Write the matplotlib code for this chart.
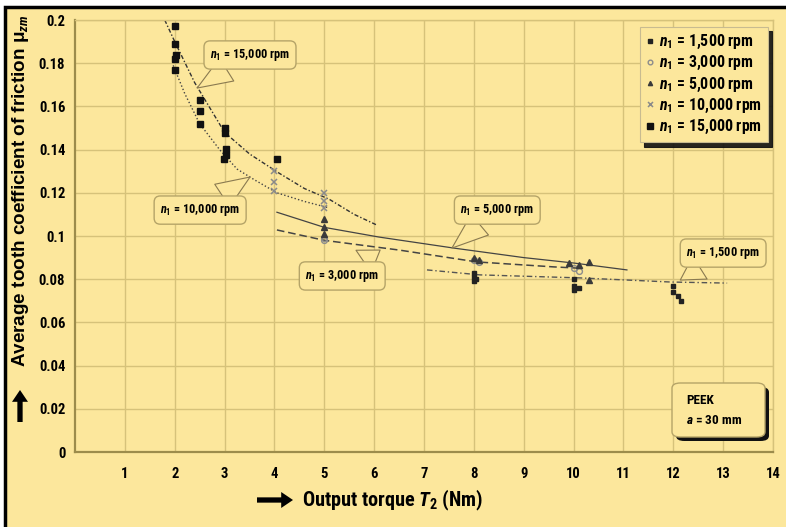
import matplotlib
matplotlib.use("Agg")
import matplotlib.pyplot as plt
import matplotlib.font_manager as fm
from matplotlib.patches import Rectangle, FancyBboxPatch

# ---------------- data ----------------
x_ticks = [1, 2, 3, 4, 5, 6, 7, 8, 9, 10, 11, 12, 13, 14]
y_ticks = [0, 0.02, 0.04, 0.06, 0.08, 0.10, 0.12, 0.14, 0.16, 0.18, 0.20]
y_tick_labels = ['0', '0.02', '0.04', '0.06', '0.08', '0.1', '0.12', '0.14', '0.16', '0.18', '0.2']

# measured points
p1500_x = [8.0, 8.0, 8.0, 8.05, 10.0, 10.0, 10.0, 10.1, 12.0, 12.0, 12.1, 12.15]
p1500_y = [0.083, 0.081, 0.079, 0.080, 0.080, 0.077, 0.075, 0.076, 0.077, 0.074, 0.072, 0.070]
p3000_x = [5.0, 5.0, 8.0, 8.1, 10.0, 10.1]
p3000_y = [0.099, 0.098, 0.089, 0.088, 0.085, 0.084]
p5000_x = [5.0, 5.0, 5.0, 8.0, 8.1, 9.9, 10.1, 10.3, 10.3]
p5000_y = [0.108, 0.104, 0.101, 0.090, 0.089, 0.0875, 0.0866, 0.088, 0.0796]
p10000_x = [4.0, 4.0, 4.0, 5.0, 5.0, 5.0]
p10000_y = [0.130, 0.125, 0.121, 0.120, 0.116, 0.113]
p15000_x = [2.0, 2.0, 2.02, 2.0, 2.0, 2.5, 2.5, 2.5, 3.0, 3.0, 3.02, 3.03, 2.98, 4.05]
p15000_y = [0.197, 0.189, 0.184, 0.182, 0.177, 0.163, 0.158, 0.152, 0.150, 0.1475, 0.1405, 0.1375, 0.1355, 0.1355]

# curves
c15000_x = [1.8, 2.0, 2.4, 3.0, 3.5, 4.1, 4.6, 5.1, 5.6, 6.06]
c15000_y = [0.200, 0.190, 0.171, 0.148, 0.138, 0.129, 0.122, 0.117, 0.110, 0.105]
c10000_x = [1.97, 2.2, 2.5, 2.9, 3.25, 3.6, 4.05, 4.6, 5.1]
c10000_y = [0.179, 0.166, 0.152, 0.140, 0.131, 0.126, 0.120, 0.116, 0.113]
c5000_x = [4.05, 5.0, 6.1, 7.6, 9.0, 10.0, 11.07]
c5000_y = [0.111, 0.104, 0.0995, 0.0944, 0.090, 0.0875, 0.0843]
c3000_x = [4.05, 5.0, 6.5, 8.06, 9.6, 10.2]
c3000_y = [0.1028, 0.098, 0.0935, 0.088, 0.0857, 0.085]
c1500_x = [7.06, 8.12, 10.13, 11.94, 13.08]
c1500_y = [0.0843, 0.082, 0.0806, 0.0787, 0.0782]

legend_labels = [r'$n_1$ = 1,500 rpm', r'$n_1$ = 3,000 rpm', r'$n_1$ = 5,000 rpm',
                 r'$n_1$ = 10,000 rpm', r'$n_1$ = 15,000 rpm']
callout_texts = [r'$n_1$ = 15,000 rpm', r'$n_1$ = 10,000 rpm', r'$n_1$ = 5,000 rpm',
                 r'$n_1$ = 3,000 rpm', r'$n_1$ = 1,500 rpm']

# ---------------- fonts ----------------
names = {f.name for f in fm.fontManager.ttflist}
NARROW = next((n for n in ['Liberation Sans Narrow', 'Roboto Condensed', 'Open Sans Condensed']
               if n in names), 'Liberation Sans')
plt.rcParams['font.family'] = [NARROW, 'DejaVu Sans']
plt.rcParams['font.weight'] = 'bold'
plt.rcParams['mathtext.fontset'] = 'custom'
plt.rcParams['mathtext.rm'] = f'{NARROW}:bold'
plt.rcParams['mathtext.it'] = f'{NARROW}:italic:bold'
plt.rcParams['mathtext.bf'] = f'{NARROW}:bold'

BG = '#fce79c'
GRID = '#d6c27a'
AXIS = '#9c8c4c'
BOXEDGE = '#b5a468'

W, H = 786, 527
fig = plt.figure(figsize=(W / 100, H / 100), dpi=100, facecolor='white')
fig.patches.append(Rectangle((5 / W, -0.05), 1.2, (1 - 7 / H) + 0.05, transform=fig.transFigure,
                             facecolor=BG, edgecolor='black', lw=2.5, zorder=-10))

ax = fig.add_axes([75 / W, 1 - 452 / H, 698 / W, 432 / H])
ax.set_facecolor(BG)
ax.set_xlim(0, 14)
ax.set_ylim(0, 0.2)
ax.set_xticks(x_ticks)
ax.set_xticklabels([str(v) for v in x_ticks])
ax.set_yticks(y_ticks)
ax.set_yticklabels(y_tick_labels)
ax.tick_params(length=0, labelsize=10.5)
ax.tick_params(axis='x', pad=11)
ax.tick_params(axis='y', pad=7)
ax.grid(True, color=GRID, lw=1.0, zorder=0)
ax.set_axisbelow(True)
for s in ['top', 'right']:
    ax.spines[s].set_color(GRID)
    ax.spines[s].set_linewidth(1.0)
for s in ['left', 'bottom']:
    ax.spines[s].set_color(AXIS)
    ax.spines[s].set_linewidth(1.6)

# curves
ax.plot(c15000_x, c15000_y, color='#333333', lw=1.0, ls=(0, (3, 1.5, 1, 1.5)), zorder=2)
ax.plot(c10000_x, c10000_y, color='#444444', lw=1.0, ls=(0, (1, 1.6)), zorder=2)
ax.plot(c5000_x, c5000_y, color='#444444', lw=0.9, ls='-', zorder=2)
ax.plot(c3000_x, c3000_y, color='#444444', lw=1.1, ls=(0, (5, 2.5)), zorder=2)
ax.plot(c1500_x, c1500_y, color='#555555', lw=1.0, ls=(0, (4, 2, 1, 2)), zorder=2)

# points
h1 = ax.plot(p1500_x, p1500_y, ls='none', marker='s', ms=3.2, color='#222222', zorder=3)[0]
h2 = ax.plot(p3000_x, p3000_y, ls='none', marker='o', ms=4.2, mfc='none', mec='#8c8c8c', mew=1.0, zorder=3)[0]
h3 = ax.plot(p5000_x, p5000_y, ls='none', marker='^', ms=3.8, color='#3a3a3a', zorder=3)[0]
h4 = ax.plot(p10000_x, p10000_y, ls='none', marker='x', ms=4.5, color='#8a8a8a', mew=1.1, zorder=3)[0]
h5 = ax.plot(p15000_x, p15000_y, ls='none', marker='s', ms=4.6, color='#111111', zorder=3)[0]

leg = ax.legend([h1, h2, h3, h4, h5], legend_labels, loc='upper right',
                bbox_to_anchor=(0.993, 0.984), borderaxespad=0, fontsize=11.4,
                handlelength=0.5, handletextpad=0.3, labelspacing=0.2,
                borderpad=0.4, fancybox=False, framealpha=1, markerscale=0.8,
                shadow={'ox': 3, 'oy': -3, 'facecolor': '#111111', 'edgecolor': '#111111', 'alpha': 0.9})
leg.get_frame().set_facecolor(BG)
leg.get_frame().set_edgecolor('#c8bb90')
leg.get_frame().set_linewidth(0.8)

# callouts: (pointer tip, text position)
callout_xy = [(2.45, 0.1685), (3.51, 0.1273), (7.56, 0.0944), (6.12, 0.0935), (12.14, 0.0796)]
callout_txt_xy = [(3.51, 0.1838), (2.51, 0.112), (8.47, 0.112), (5.36, 0.0815), (13.0, 0.0921)]
for txt, tip, pos in zip(callout_texts, callout_xy, callout_txt_xy):
    ax.annotate(txt, xy=tip, xytext=pos, fontsize=8.8, ha='center', va='center', zorder=5,
                bbox=dict(boxstyle='round,pad=0.5,rounding_size=0.5', fc=BG, ec=BOXEDGE, lw=1.0),
                arrowprops=dict(arrowstyle='wedge,tail_width=2.2,shrink_factor=0.5',
                                fc=BG, ec='#8a7a50', lw=0.8, shrinkA=0, shrinkB=0))

# PEEK box with shadow
bx0, by0 = (672 - 75) / 698, (452 - 437) / 432
bw, bh = 93 / 698, 54 / 432
ax.add_patch(FancyBboxPatch((bx0 + 4 / 698, by0 - 4 / 432), bw, bh, transform=ax.transAxes,
                            boxstyle='round,pad=0,rounding_size=0.012', fc='#111111', ec='none', zorder=5))
ax.add_patch(FancyBboxPatch((bx0, by0), bw, bh, transform=ax.transAxes,
                            boxstyle='round,pad=0,rounding_size=0.012', fc=BG, ec=BOXEDGE, lw=1.0, zorder=6))
ax.text((686 - 75) / 698, (452 - 401) / 432, 'PEEK', transform=ax.transAxes, fontsize=9.5,
        ha='left', va='center', zorder=7)
ax.text((686 - 75) / 698, (452 - 421) / 432, r'$a$ = 30 mm', transform=ax.transAxes, fontsize=9.5,
        ha='left', va='center', zorder=7)

# axis labels with arrows
fig.text(21 / W, 1 - 191 / H, 'Average tooth coefficient of friction μ' + r'$_{zm}$',
         rotation=90, ha='center', va='center', fontsize=13.6,
         family=['Liberation Sans', 'DejaVu Sans'], fontweight='bold')
arrow_style = 'simple,tail_width=0.38,head_width=1.15,head_length=0.85'
ax.annotate('', xy=(20, H - 390), xytext=(20, H - 422), xycoords='figure pixels',
            textcoords='figure pixels',
            arrowprops=dict(arrowstyle=arrow_style, fc='black', ec='none', lw=0,
                            mutation_scale=10, shrinkA=0, shrinkB=0))
fig.text(302 / W, 1 - 500 / H, r'Output torque $T_2$ (Nm)', ha='left', va='center', fontsize=14.6)
ax.annotate('', xy=(293, H - 500), xytext=(257, H - 500), xycoords='figure pixels',
            textcoords='figure pixels',
            arrowprops=dict(arrowstyle=arrow_style, fc='black', ec='none', lw=0,
                            mutation_scale=10, shrinkA=0, shrinkB=0))

fig.savefig('out.png', dpi=100, facecolor=fig.get_facecolor())
